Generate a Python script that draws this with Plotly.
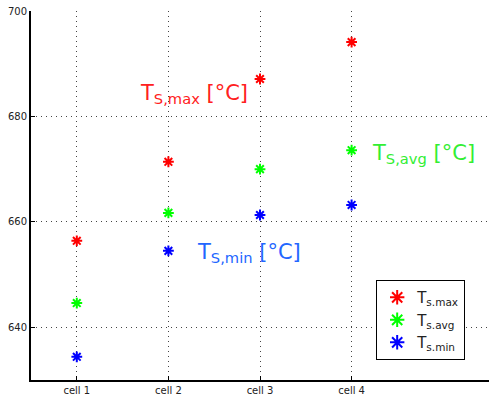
import plotly.graph_objects as go

cells = ["cell 1", "cell 2", "cell 3", "cell 4"]
cell_pos = [1, 2, 3, 4]
t_max = [656.4, 671.4, 687.1, 694.1]
t_avg = [644.6, 661.7, 670.0, 673.6]
t_min = [634.4, 654.5, 661.3, 663.2]
y_ticks = [640, 660, 680, 700]

series = [
    ("T<sub>s.max</sub>", t_max, "#ff0000"),
    ("T<sub>s.avg</sub>", t_avg, "#00ff00"),
    ("T<sub>s.min</sub>", t_min, "#0000ff"),
]

fig = go.Figure()
for name, vals, col in series:
    fig.add_trace(go.Scatter(
        x=cell_pos, y=vals, mode="markers", name=name,
        marker=dict(symbol="asterisk-open", size=9, color=col,
                    line=dict(color=col, width=2)),
    ))

annots = [
    ("T<sub>S,max</sub> [°C]", 2.28, 684.2, "#ff2020"),
    ("T<sub>S,avg</sub> [°C]", 4.78, 672.9, "#33ee33"),
    ("T<sub>S,min</sub> [°C]", 2.88, 654.1, "#2266ff"),
]
for txt, x, y, col in annots:
    fig.add_annotation(x=x, y=y, text=txt, showarrow=False,
                       font=dict(size=21, color=col, family="DejaVu Sans"),
                       xanchor="center", yanchor="middle")

fig.update_layout(
    width=489, height=402,
    margin=dict(l=31, r=0, t=11, b=22),
    paper_bgcolor="white", plot_bgcolor="white",
    font=dict(family="DejaVu Sans", size=10, color="#222"),
    legend=dict(x=0.948, y=0.054, xanchor="right", yanchor="bottom",
                bordercolor="black", borderwidth=1, bgcolor="white",
                font=dict(size=15), tracegroupgap=0, itemsizing="constant"),
    xaxis=dict(range=[0.5, 5.5], tickvals=cell_pos, ticktext=cells,
               showgrid=True, gridcolor="#444", griddash="1px,4px", gridwidth=1,
               showline=True, linecolor="black", linewidth=2,
               ticks="inside", ticklen=4, tickcolor="black",
               zeroline=False),
    yaxis=dict(range=[630, 700], tickvals=y_ticks,
               showgrid=True, gridcolor="#444", griddash="1px,4px", gridwidth=1,
               showline=True, linecolor="black", linewidth=2,
               ticks="inside", ticklen=4, tickcolor="black",
               zeroline=False),
)

fig.write_html("out.html")
